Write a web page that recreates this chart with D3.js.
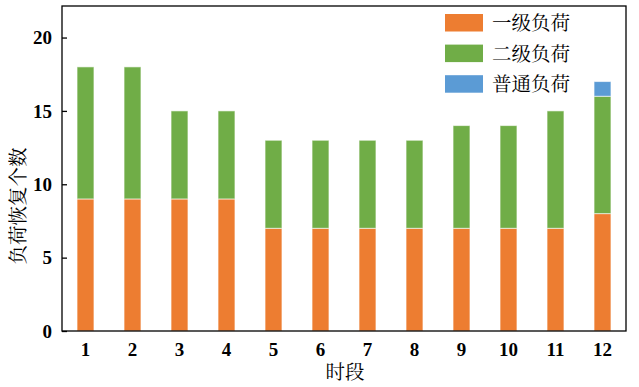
<!DOCTYPE html>
<html lang="zh">
<head>
<meta charset="UTF-8" />
<title>负荷恢复个数</title>
<script src="https://d3js.org/d3.v7.min.js"></script>
<style>
    body { margin: 0; background: #fff; }
    svg text { fill: #000; }
    .num { font-family: "Liberation Serif", "Times New Roman", serif; font-weight: bold; font-size: 19px; }
    .cjk { font-family: "Noto Serif CJK SC", "Noto Sans CJK SC", serif; font-size: 19.5px; }
</style>
</head>
<body>
<div id="chart"></div>
<script>
    // --- Data ---
    const periods = ["1", "2", "3", "4", "5", "6", "7", "8", "9", "10", "11", "12"];
    const level1 = [9, 9, 9, 9, 7, 7, 7, 7, 7, 7, 7, 8];
    const level2 = [9, 9, 6, 6, 6, 6, 6, 6, 7, 7, 8, 8];
    const normal = [0, 0, 0, 0, 0, 0, 0, 0, 0, 0, 0, 1];
    const seriesNames = ["一级负荷", "二级负荷", "普通负荷"];
    const seriesColors = ["#ED7D31", "#70AD47", "#5B9BD5"];
    const yTicks = [0, 5, 10, 15, 20];

    const W = 639, H = 387;
    const margin = { left: 62, right: 13, top: 6, bottom: 56 };
    const iw = W - margin.left - margin.right;
    const ih = H - margin.top - margin.bottom;

    const svg = d3.select("#chart").append("svg")
        .attr("width", W).attr("height", H);
    const g = svg.append("g").attr("transform", `translate(${margin.left},${margin.top})`);

    const x = d3.scaleBand().domain(periods).range([0, iw]).paddingInner(0.64).paddingOuter(0.32);
    const y = d3.scaleLinear().domain([0, 22.15]).range([ih, 0]);

    const table = periods.map((p, i) => ({ p, a: level1[i], b: level2[i], c: normal[i] }));
    const stack = d3.stack().keys(["a", "b", "c"])(table);

    g.selectAll("g.series").data(stack).join("g")
        .attr("class", "series")
        .attr("fill", (d, i) => seriesColors[i])
        .selectAll("rect").data(d => d.filter(s => s[1] > s[0])).join("rect")
        .attr("x", d => x(d.data.p))
        .attr("width", x.bandwidth())
        .attr("y", d => y(d[1]))
        .attr("height", d => y(d[0]) - y(d[1]))
        .attr("stroke", "#fff")
        .attr("stroke-opacity", 0.6)
        .attr("stroke-width", 1);

    // frame
    g.append("rect").attr("width", iw).attr("height", ih)
        .attr("fill", "none").attr("stroke", "#000").attr("stroke-width", 1.3);

    // y axis
    const yAxis = g.append("g")
        .call(d3.axisLeft(y).tickValues(yTicks).tickSizeInner(-5).tickSizeOuter(0).tickPadding(10));
    yAxis.select(".domain").remove();
    yAxis.selectAll(".tick line").attr("stroke", "#000").attr("stroke-width", 1.3);
    yAxis.selectAll("text").attr("class", "num").attr("fill", "#000");

    // x axis
    const xAxis = g.append("g").attr("transform", `translate(0,${ih})`)
        .call(d3.axisBottom(x).tickSize(0).tickPadding(12));
    xAxis.select(".domain").remove();
    xAxis.selectAll("text").attr("class", "num").attr("fill", "#000");

    // axis titles
    svg.append("text").attr("class", "cjk")
        .attr("x", 345).attr("y", 379)
        .attr("text-anchor", "middle").text("时段");
    svg.append("text").attr("class", "cjk")
        .attr("transform", `translate(25,206) rotate(-90)`)
        .attr("text-anchor", "middle").text("负荷恢复个数");

    // legend
    const legend = svg.append("g").attr("transform", "translate(445,14)");
    seriesNames.forEach((name, i) => {
        const row = legend.append("g").attr("transform", `translate(0,${i * 30.6})`);
        row.append("rect").attr("width", 38).attr("height", 17.5).attr("fill", seriesColors[i]);
        row.append("text").attr("class", "cjk").attr("x", 47).attr("y", 16).text(name);
    });
</script>
</body>
</html>
